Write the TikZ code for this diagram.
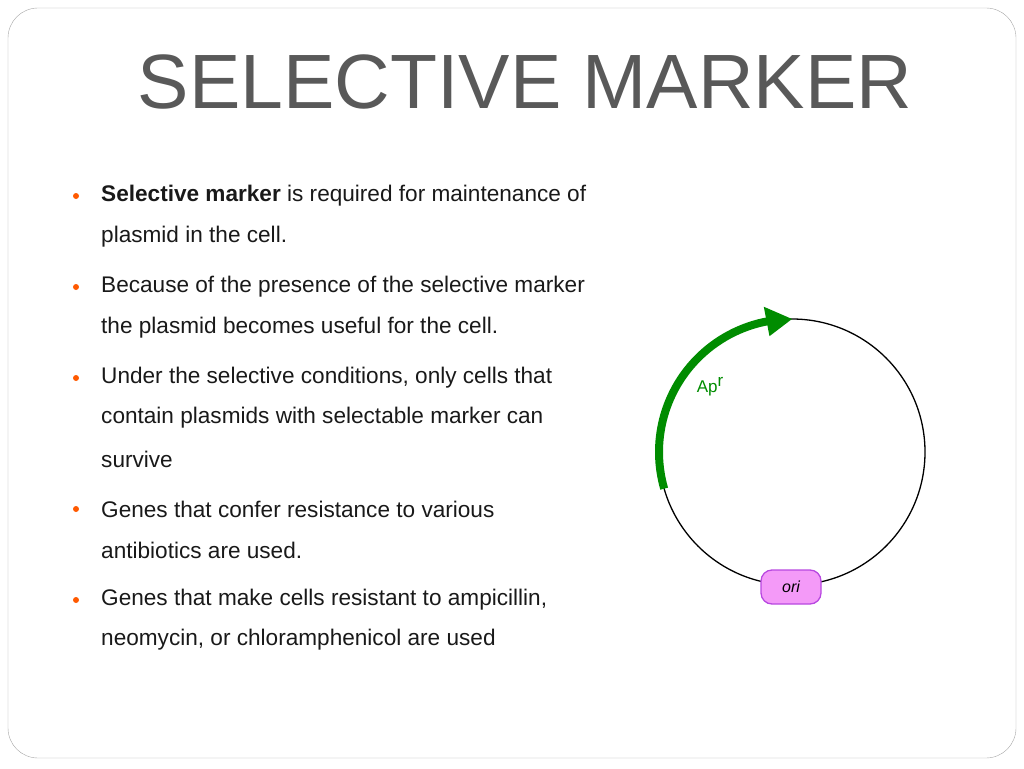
\documentclass[tikz,border=0pt]{standalone}
\usepackage{fontspec}
\setmainfont{Liberation Sans}
\begin{document}
\begin{tikzpicture}[x=1pt,y=-1pt,
  txt/.style={anchor=west,inner sep=0pt,font=\fontsize{22.6}{26}\selectfont,text=black!90},
  bul/.style={circle,fill=orange!70!red,inner sep=0pt,minimum size=6pt}]
\definecolor{orifill}{HTML}{F49AF8}
\definecolor{oriline}{HTML}{B848E0}
\useasboundingbox (0,0) rectangle (1024,768);
\draw[gray!70,rounded corners=30pt] (8,8) rectangle (1016,758);
\node[text=black!65,font=\fontsize{77}{80}\selectfont] (title) at (525,82) {SELECTIVE MARKER};
\foreach \y/\t [count=\i] in {196/{\textbf{Selective marker} is required for maintenance of},237/{plasmid in the cell.},287/{Because of the presence of the selective marker},328/{the plasmid becomes useful for the cell.},378/{Under the selective conditions, only cells that},418/{contain plasmids with selectable marker can},459/{survive},509/{Genes that confer resistance to various},550/{antibiotics are used.},600/{Genes that make cells resistant to ampicillin,},640/{neomycin, or chloramphenicol are used}}
  \node[txt] (t\i) at (101,\y) {\t};
\foreach \y in {196,287,378,509,600} \node[bul] at (76,\y) {};
\coordinate (c) at (792,452);
\draw[line width=1.3pt] (c) circle[radius=133];
\draw[green!55!black,line width=8pt] ([shift={(164:133)}]c) arc[start angle=164,end angle=260,radius=133];
\fill[green!55!black] ([shift={(270:133)}]c) -- ([shift={(259:148)}]c) -- ([shift={(259:118)}]c) -- cycle;
\node[text=green!55!black,font=\fontsize{17}{20}\selectfont] (ap) at (710,387) {Ap\raisebox{6pt}{r}};
\node[draw=oriline,line width=1.3pt,fill=orifill,rounded corners=11pt,minimum width=60pt,minimum height=34pt,font=\itshape\fontsize{16}{18}\selectfont] (ori) at (791,587) {ori};
\end{tikzpicture}
\end{document}
